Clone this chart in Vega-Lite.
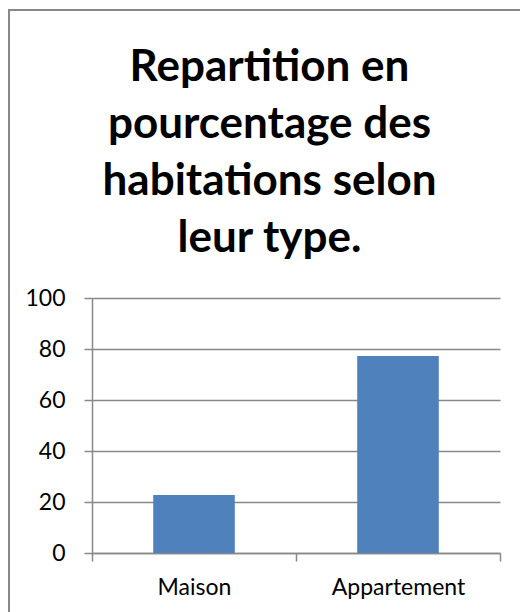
{
  "$schema": "https://vega.github.io/schema/vega-lite/v6.json",
  "autosize": {"type": "none"},
  "width": 515,
  "height": 620,
  "padding": {"left": 9, "top": 10, "right": 0, "bottom": 0},
  "background": "white",
  "title": {
    "text": ["Repartition en", "pourcentage des", "habitations selon", "leur type."],
    "font": "Lato",
    "fontSize": 44,
    "fontWeight": "bold",
    "color": "#000000",
    "lineHeight": 57,
    "anchor": "middle",
    "frame": "group",
    "baseline": "top",
    "offset": -251,
    "dx": 3
  },
  "data": {
    "values": [
      {"type": "Maison", "pourcentage": 22.7},
      {"type": "Appartement", "pourcentage": 77.3}
    ]
  },
  "mark": {"type": "bar", "color": "#4F81BD", "width": {"band": 0.4}},
  "encoding": {
    "x": {
      "field": "type",
      "type": "nominal",
      "sort": null,
      "scale": {"range": [83, 491], "paddingInner": 0, "paddingOuter": 0},
      "axis": {
        "title": null,
        "orient": "bottom",
        "offset": -77,
        "tickBand": "extent",
        "labelAngle": 0,
        "labelFont": "Lato",
        "labelFontSize": 23,
        "labelColor": "#000000",
        "labelPadding": 15,
        "tickSize": 8,
        "tickColor": "#888888",
        "tickWidth": 1.5,
        "domainColor": "#888888",
        "domainWidth": 1.5,
        "grid": false
      }
    },
    "y": {
      "field": "pourcentage",
      "type": "quantitative",
      "scale": {"domain": [0, 100], "range": [543, 288], "nice": false, "zero": true},
      "axis": {
        "title": null,
        "offset": -83,
        "values": [0, 20, 40, 60, 80, 100],
        "grid": true,
        "gridColor": "#888888",
        "gridWidth": 1.5,
        "labelFont": "Lato",
        "labelFontSize": 23,
        "labelColor": "#000000",
        "labelPadding": 19,
        "tickSize": 8,
        "tickColor": "#888888",
        "tickWidth": 1.5,
        "domainColor": "#888888",
        "domainWidth": 1.5
      }
    }
  },
  "config": {
    "view": {"stroke": "#888888", "strokeWidth": 2}
  }
}
